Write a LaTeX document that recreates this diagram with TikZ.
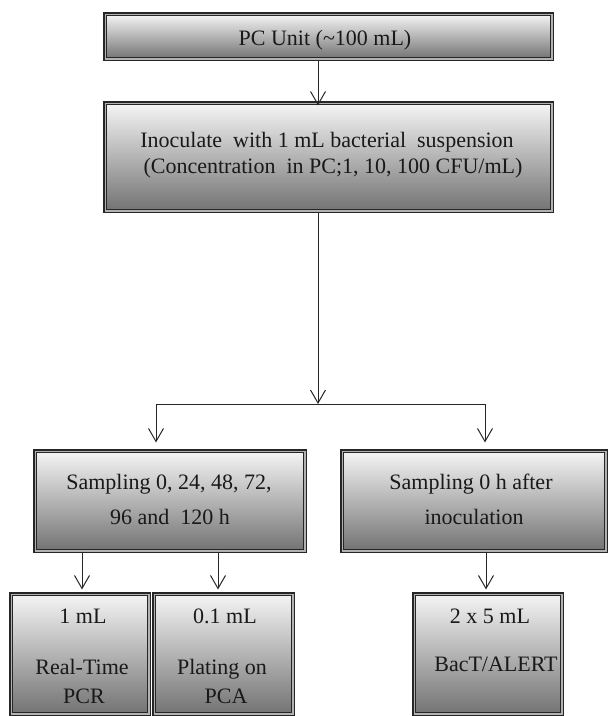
\documentclass[tikz,border=0pt]{standalone}
\usepackage{fontspec}
\setmainfont{Liberation Serif}
\usetikzlibrary{arrows.meta}
\begin{document}
\begin{tikzpicture}[x=1pt,y=-1pt,
  fbox/.style={draw=black!85, line width=1.5pt, double=black!30, double distance=1.4pt,
    top color=black!4, middle color=black!16, bottom color=black!55, inner sep=0pt},
  lbl/.style={anchor=base, inner sep=0pt, font=\fontsize{22}{26}\selectfont, text=black!90},
  conn/.style={draw=black!85, line width=1pt},
  arr/.style={conn, -{Straight Barb[length=13pt,width=15pt,line width=1pt]}}]
\useasboundingbox (0,0) rectangle (610,716);
% boxes
\node[fbox, minimum width=446.6pt, minimum height=44.6pt] (top) at (328.5,36.5) {};
\node[fbox, minimum width=446.6pt, minimum height=107.6pt] (inoc) at (328.5,157) {};
\node[fbox, minimum width=269.6pt, minimum height=99.6pt] (midL) at (170,501) {};
\node[fbox, minimum width=263.6pt, minimum height=99.6pt] (midR) at (474,501) {};
\node[fbox, minimum width=137.6pt, minimum height=119.6pt] (botA) at (80,654) {};
\node[fbox, minimum width=138.6pt, minimum height=119.6pt] (botB) at (223.5,654) {};
\node[fbox, minimum width=147.6pt, minimum height=119.6pt] (botC) at (488,654) {};
% connector coordinates
\coordinate (c1) at (318,0);
\coordinate (j) at (318,404);
\coordinate (jl) at (156,404);
\coordinate (jr) at (485,404);
\coordinate (a1) at (82,0);
\coordinate (a2) at (218,0);
\coordinate (a3) at (486,0);
% connectors
\draw[arr, shorten >=-3pt] (top.south -| c1) -- (inoc.north -| c1);
\draw[arr] (inoc.south -| j) -- (j);
\draw[conn] (jl) -- (jr);
\draw[arr, shorten >=8pt] (jl) -- (midL.north -| jl);
\draw[arr, shorten >=8pt] (jr) -- (midR.north -| jr);
\draw[arr, shorten >=4pt] (midL.south -| a1) -- (botA.north -| a1);
\draw[arr, shorten >=4pt] (midL.south -| a2) -- (botB.north -| a2);
\draw[arr, shorten >=4pt] (midR.south -| a3) -- (botC.north -| a3);
% texts
\node[lbl] (t0) at (325,45) {PC Unit (\textasciitilde100 mL)};
\node[lbl] (t1) at (327,147) {Inoculate\ \ with 1 mL bacterial\ \ suspension};
\node[lbl] (t2) at (333,173) {(Concentration\ \ in PC;1, 10, 100 CFU/mL)};
\node[lbl] (t3) at (169,489) {Sampling 0, 24, 48, 72,};
\node[lbl] (t4) at (170,524) {96 and\ \ 120 h};
\node[lbl] (t5) at (471,489) {Sampling 0 h after};
\node[lbl] (t6) at (474,524) {inoculation};
\node[lbl] (t7) at (83,623) {1 mL};
\node[lbl] (t8) at (82,674) {Real-Time};
\node[lbl] (t9) at (84,703) {PCR};
\node[lbl] (t10) at (225,623) {0.1 mL};
\node[lbl] (t11) at (222,674) {Plating on};
\node[lbl] (t12) at (226,703) {PCA};
\node[lbl] (t13) at (490,623) {2 x 5 mL};
\node[lbl] (t14) at (496,671) {BacT/ALERT};
\end{tikzpicture}
\end{document}
